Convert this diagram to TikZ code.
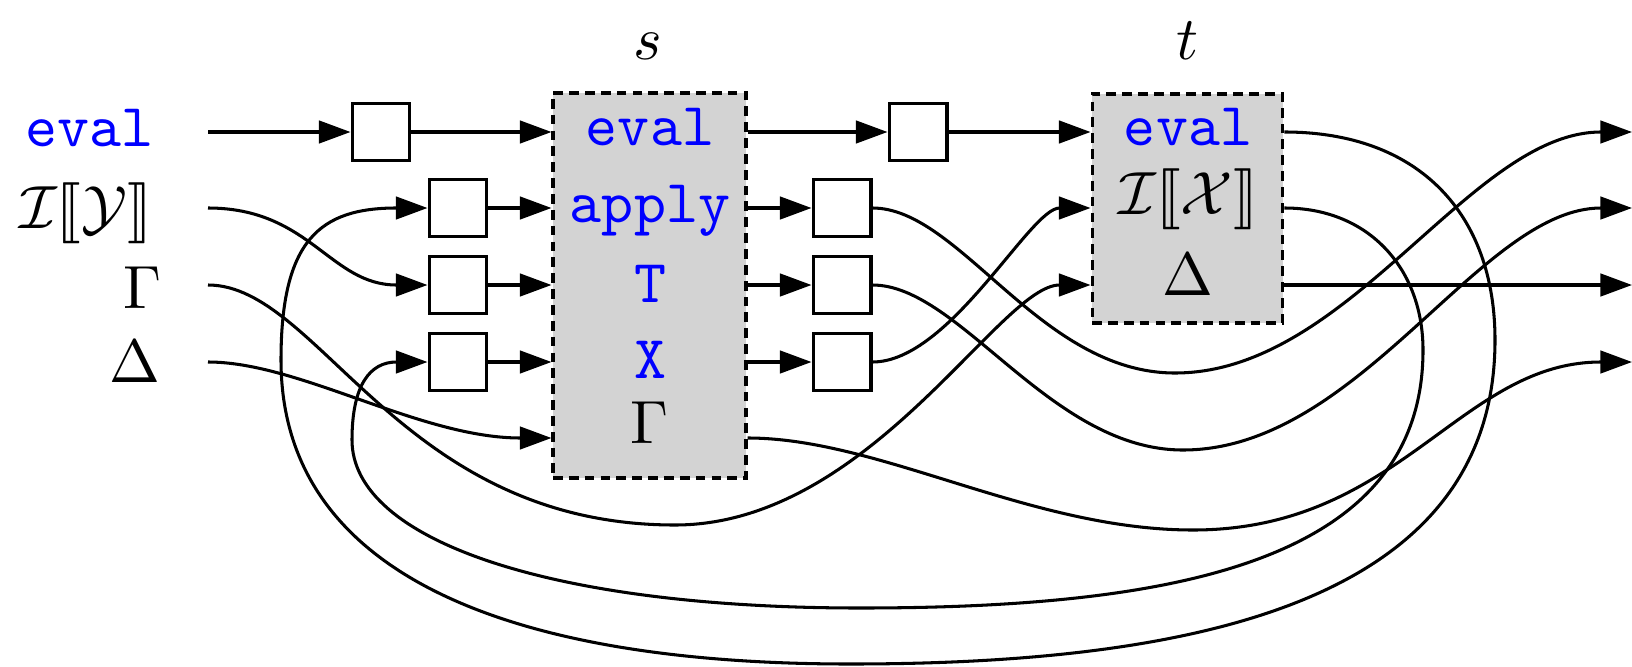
\documentclass[tikz,border=0pt]{standalone}
\usepackage{stmaryrd}
\usetikzlibrary{arrows.meta}
\definecolor{boxgray}{RGB}{211,211,211}
\begin{document}
\begin{tikzpicture}[x=0.164pt,y=-0.164pt,
  wire/.style={line width=0.5pt},
  arr/.style={wire,-{Triangle[length=5.2pt,width=3.7pt]}},
  sq/.style={draw,line width=0.5pt,fill=white,minimum width=9.5pt,minimum height=9.5pt,inner sep=0pt},
  grp/.style={draw,dash pattern=on 1.6pt off 1pt,line width=0.5pt,fill=boxgray,inner sep=0pt},
  lbl/.style={inner sep=0pt,anchor=base},
  kw/.style={lbl,text=blue,font=\ttfamily},
]
\useasboundingbox (0,0) rectangle (1632,667);
% rows
\coordinate (y1) at (0,132);
\coordinate (y2) at (0,208);
\coordinate (y3) at (0,285);
\coordinate (y4) at (0,362);
\coordinate (y5) at (0,438);
% free ends
\coordinate (l1) at (208,132);
\coordinate (l2) at (208,208);
\coordinate (l3) at (208,285);
\coordinate (l4) at (208,362);
\coordinate (r1) at (1632,132);
\coordinate (r2) at (1632,208);
\coordinate (r3) at (1632,285);
\coordinate (r4) at (1632,362);
% left labels
\node[kw,anchor=base east] (Leval) at (155,147) {eval};
\node[lbl,anchor=base east] (LI) at (153,228) {$\mathcal{I}\llbracket\mathcal{Y}\rrbracket$};
\node[lbl,anchor=base east] (LG) at (163,308) {$\Gamma$};
\node[lbl,anchor=base east] (LD) at (162,382) {$\Delta$};
% group boxes
\node[grp,minimum width=31.65pt,minimum height=63.14pt] (s) at (649.5,285.5) {};
\node[grp,minimum width=31.3pt,minimum height=37.56pt] (t) at (1187.5,208.5) {};
\node[lbl] (slab) at (648,59) {$s$};
\node[lbl] (tlab) at (1187,59) {$t$};
% texts in s
\node[kw] (seval) at (650,145) {eval};
\node[kw] (sapply) at (650,222) {apply};
\node[kw] (sT) at (650,302) {T};
\node[kw] (sX) at (650,378) {X};
\node[lbl] (sG) at (650,443) {$\Gamma$};
% texts in t
\node[kw] (teval) at (1188,145) {eval};
\node[lbl] (tI) at (1188,214) {$\mathcal{I}\llbracket\mathcal{X}\rrbracket$};
\node[lbl] (tD) at (1188,295) {$\Delta$};
% small boxes
\node[sq] (b1) at (381,132) {};
\node[sq] (b2) at (458,208) {};
\node[sq] (b3) at (458,285) {};
\node[sq] (b4) at (458,362) {};
\node[sq] (c1) at (918,132) {};
\node[sq] (c2) at (842,208) {};
\node[sq] (c3) at (842,285) {};
\node[sq] (c4) at (842,362) {};
% straight wires
\draw[arr] (l1) -- (b1);
\draw[arr] (b1) -- (b1 -| s.west);
\draw[arr] (b2) -- (b2 -| s.west);
\draw[arr] (b3) -- (b3 -| s.west);
\draw[arr] (b4) -- (b4 -| s.west);
\draw[arr] (s.east |- y1) -- (c1);
\draw[arr] (c1) -- (c1 -| t.west);
\draw[arr] (s.east |- y2) -- (c2);
\draw[arr] (s.east |- y3) -- (c3);
\draw[arr] (s.east |- y4) -- (c4);
\draw[arr] (t.east |- y3) -- (r3);
% curved wires
\draw[arr] (l2) .. controls (310,208) and (330,285) .. (b3.west);
\draw[arr] (l3) .. controls (320,285) and (400,525) .. (675,525)
  .. controls (870,525) and (1000,285) .. (t.west |- y3);
\draw[arr] (l4) .. controls (300,362) and (420,438) .. (s.west |- y5);
\draw[arr] (c2.east) .. controls (960,208) and (1040,373) .. (1175,373)
  .. controls (1350,373) and (1470,132) .. (r1);
\draw[arr] (c3.east) .. controls (960,285) and (1050,450) .. (1183,450)
  .. controls (1360,450) and (1480,208) .. (r2);
\draw[arr] (c4.east) .. controls (950,362) and (1030,208) .. (t.west |- y2);
\draw[arr] (s.east |- y5) .. controls (880,438) and (1030,530) .. (1193,530)
  .. controls (1400,530) and (1460,362) .. (r4);
\draw[arr] (t.east |- y1) .. controls (1420,132) and (1495,215) .. (1495,340)
  .. controls (1495,600) and (1200,664) .. (850,664)
  .. controls (520,664) and (281,580) .. (281,360)
  .. controls (281,240) and (320,208) .. (b2.west);
\draw[arr] (t.east |- y2) .. controls (1370,208) and (1423,270) .. (1423,350)
  .. controls (1423,560) and (1180,608) .. (860,608)
  .. controls (550,608) and (352,540) .. (352,440)
  .. controls (352,385) and (370,362) .. (b4.west);
\end{tikzpicture}
\end{document}
